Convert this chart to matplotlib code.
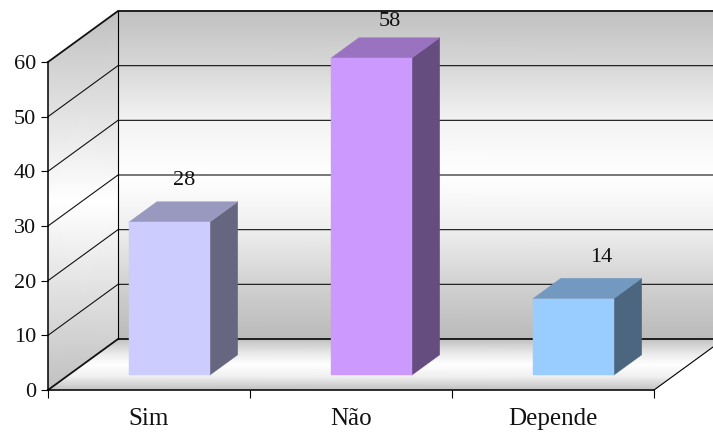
import numpy as np
import matplotlib
matplotlib.use('Agg')
import matplotlib.pyplot as plt
from matplotlib.patches import Polygon

plt.rcParams['font.family'] = ['Liberation Serif', 'DejaVu Serif']

# datos
categorias = ['Sim', 'Não', 'Depende']
valores = [28, 58, 14]
ticks_y = [0, 10, 20, 30, 40, 50, 60]

cor_frente = ['#CCCCFF', '#CC99FF', '#99CCFF']
cor_topo = ['#9999C0', '#9973C0', '#7399C0']
cor_lado = ['#666680', '#664D80', '#4D6680']

# desplazamiento de las etiquetas respecto al centro frontal de la barra (pixeles)
offset_etiqueta = [(15, 42), (19, 37), (28, 41)]

W, H = 713, 432
fig = plt.figure(figsize=(W / 100, H / 100), dpi=100)
# el eje coincide con el plano frontal del grafico 3D
ax = fig.add_axes([48 / W, 1 - 390 / H, 606 / W, 328 / H])
ax.set_xlim(0, 3)
ax.set_ylim(0, 60)
ax.patch.set_visible(False)

# profundidad en unidades de datos
DX = 70 / 202
DY = 51 / (328 / 60)


def proy(x, y, d):
    return x + d * DX, y + d * DY


def malla(xs, ys, cs):
    return ax.pcolormesh(xs, ys, cs, cmap='gray', vmin=0, vmax=1,
                         shading='gouraud', clip_on=False, zorder=1)


# pared del fondo
gy = [0, 10, 20, 30, 40, 50, 60]
gc = [0.73, 0.82, 0.93, 1.0, 0.95, 0.84, 0.75]
xs = np.array([[proy(0, v, 1)[0], proy(3, v, 1)[0]] for v in gy])
ys = np.array([[proy(0, v, 1)[1], proy(3, v, 1)[1]] for v in gy])
malla(xs, ys, np.array([[c, c] for c in gc]))

# pared izquierda, degradado horizontal recortado a la pared
alto = 60 + DY
gy_izq = [0, alto / 2, alto]
gc_izq = [0.75, 1.0, 0.75]
xs = np.array([[0, DX] for v in gy_izq])
ys = np.array([[v, v] for v in gy_izq])
m = malla(xs, ys, np.array([[c, c] for c in gc_izq]))
clip = Polygon([proy(0, 0, 0), proy(0, 0, 1), proy(0, 60, 1), proy(0, 60, 0)],
               closed=True, transform=ax.transData)
m.set_clip_on(True)
m.set_clip_box(fig.bbox)
m.set_clip_path(clip)

# piso
prof = [0, 0.25, 0.5, 0.75, 1]
gc_piso = [0.75, 0.93, 1.0, 0.9, 0.75]
xs = np.array([[proy(0, 0, d)[0], proy(3, 0, d)[0]] for d in prof])
ys = np.array([[proy(0, 0, d)[1], proy(3, 0, d)[1]] for d in prof])
malla(xs, ys, np.array([[c, c] for c in gc_piso]))

# rejilla
for v in ticks_y:
    lw = 1.3 if v in (0, 60) else 0.8
    x0, y0 = proy(0, v, 0)
    x1, y1 = proy(0, v, 1)
    x2, y2 = proy(3, v, 1)
    ax.plot([x0, x1, x2], [y0, y1, y2], color='#111111', lw=lw, clip_on=False,
            zorder=2, solid_joinstyle='miter')

x1, y1 = proy(0, 0, 1)
x2, y2 = proy(0, 60, 1)
ax.plot([x1, x2], [y1, y2], color='black', lw=0.8, clip_on=False, zorder=2)
x2, y2 = proy(3, 0, 1)
ax.plot([3, x2], [0, y2], color='black', lw=0.8, clip_on=False, zorder=2)

# barras
d0, d1 = 0.29, 0.69
ancho = 0.4
for i, val in enumerate(valores):
    a = i + 0.5 - ancho / 2
    b = i + 0.5 + ancho / 2
    frente = [proy(a, 0, d0), proy(b, 0, d0), proy(b, val, d0), proy(a, val, d0)]
    lado = [proy(b, 0, d0), proy(b, 0, d1), proy(b, val, d1), proy(b, val, d0)]
    topo = [proy(a, val, d0), proy(b, val, d0), proy(b, val, d1), proy(a, val, d1)]
    for pts, c in ((lado, cor_lado[i]), (topo, cor_topo[i]), (frente, cor_frente[i])):
        ax.add_patch(Polygon(pts, closed=True, facecolor=c, edgecolor=c, lw=0.3,
                             clip_on=False, zorder=3))
    ax.annotate(str(val), xy=proy(i + 0.5, val, d0), xytext=offset_etiqueta[i],
                textcoords='offset pixels', ha='center', va='center',
                fontsize=16, color='#111111', zorder=4, annotation_clip=False)

# ejes
for lado_eje in ('top', 'right'):
    ax.spines[lado_eje].set_visible(False)
for lado_eje in ('left', 'bottom'):
    ax.spines[lado_eje].set_linewidth(1.1)
    ax.spines[lado_eje].set_zorder(2.5)

ax.set_yticks(ticks_y)
ax.tick_params(axis='y', length=5, width=0.8, labelsize=16, pad=3.5, labelcolor='#111111')
ax.set_xticks([0, 1, 2, 3])
ax.set_xticklabels([])
ax.tick_params(axis='x', which='major', length=6, width=0.8)
ax.set_xticks([i + 0.5 for i in range(len(categorias))], minor=True)
ax.set_xticklabels(categorias, minor=True, fontsize=18, color='#111111')
ax.tick_params(axis='x', which='minor', length=0, pad=13)

fig.savefig('out.png', dpi=100)
